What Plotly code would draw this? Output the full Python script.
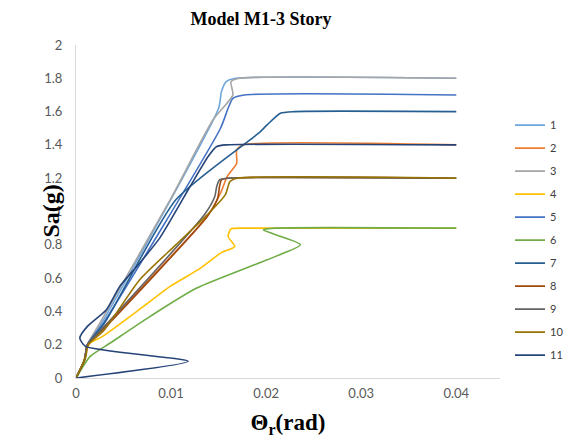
import plotly.graph_objects as go

# ---- data ----
names = ["1", "2", "3", "4", "5", "6", "7", "8", "9", "10", "11"]
colors = ["#6FA6DC", "#ED7D31", "#A5A5A5", "#FFC000", "#4472C4", "#70AD47",
          "#255E91", "#9E480E", "#636363", "#997300", "#264478"]

x1 = [0, 0.0009, 0.0012, 0.003, 0.0150, 0.0153, 0.0158, 0.0168, 0.04]
y1 = [0, 0.11, 0.2, 0.36, 1.62, 1.72, 1.78, 1.80, 1.80]

x2 = [0, 0.0009, 0.0012, 0.003, 0.0138, 0.0152, 0.0159, 0.0169, 0.0169, 0.0176, 0.04]
y2 = [0, 0.11, 0.2, 0.31, 0.97, 1.11, 1.21, 1.29, 1.37, 1.40, 1.40]

x3 = [0, 0.0009, 0.0012, 0.0025, 0.0099, 0.0144, 0.0165, 0.0163, 0.0172, 0.04]
y3 = [0, 0.11, 0.2, 0.33, 1.07, 1.55, 1.70, 1.78, 1.80, 1.80]

x4 = [0, 0.0008, 0.0011, 0.0015, 0.0028, 0.0071, 0.0099, 0.0131, 0.0152, 0.0167, 0.0160, 0.0163, 0.0175, 0.0200, 0.04]
y4 = [0, 0.10, 0.17, 0.21, 0.25, 0.43, 0.55, 0.66, 0.75, 0.79, 0.85, 0.895, 0.90, 0.90, 0.90]

x5 = [0, 0.0009, 0.0012, 0.003, 0.0152, 0.0160, 0.0165, 0.0177, 0.04]
y5 = [0, 0.11, 0.2, 0.34, 1.50, 1.62, 1.68, 1.70, 1.70]

x6 = [0, 0.0015, 0.0036, 0.0078, 0.0127, 0.0201, 0.0236, 0.0210, 0.0197, 0.0210, 0.04]
y6 = [0, 0.13, 0.21, 0.37, 0.54, 0.71, 0.80, 0.86, 0.89, 0.90, 0.90]

x7 = [0, 0.0009, 0.0012, 0.003, 0.0105, 0.0183, 0.0194, 0.0201, 0.0215, 0.0230, 0.04]
y7 = [0, 0.11, 0.2, 0.33, 1.07, 1.43, 1.48, 1.52, 1.59, 1.60, 1.60]

x8 = [0, 0.0009, 0.0012, 0.003, 0.0138, 0.0149, 0.0151, 0.0153, 0.0160, 0.04]
y8 = [0, 0.11, 0.2, 0.30, 0.97, 1.08, 1.15, 1.19, 1.20, 1.20]

x9 = [0, 0.0009, 0.0012, 0.003, 0.0135, 0.0146, 0.0148, 0.0151, 0.0158, 0.04]
y9 = [0, 0.11, 0.2, 0.31, 0.98, 1.09, 1.15, 1.19, 1.20, 1.20]

x10 = [0, 0.001, 0.0013, 0.003, 0.0067, 0.0105, 0.0138, 0.0157, 0.0162, 0.0170, 0.04]
y10 = [0, 0.12, 0.2, 0.29, 0.59, 0.80, 0.98, 1.10, 1.18, 1.20, 1.20]

x11 = [0, 0.0118, 0.0010, 0.0004, 0.0012, 0.0032, 0.0046, 0.0064, 0.0088, 0.0120, 0.0139, 0.0148, 0.0158, 0.04]
y11 = [0, 0.10, 0.19, 0.24, 0.31, 0.41, 0.55, 0.67, 0.84, 1.15, 1.33, 1.39, 1.40, 1.40]

xs = [x1, x2, x3, x4, x5, x6, x7, x8, x9, x10, x11]
ys = [y1, y2, y3, y4, y5, y6, y7, y8, y9, y10, y11]

x_ticks = [0, 0.01, 0.02, 0.03, 0.04]
y_ticks = [0, 0.2, 0.4, 0.6, 0.8, 1, 1.2, 1.4, 1.6, 1.8, 2]

fig = go.Figure()
for n, c, x, y in zip(names, colors, xs, ys):
    fig.add_trace(go.Scatter(x=x, y=y, name=n, mode="lines",
                             line=dict(color=c, width=1.6, shape="spline", smoothing=0.6),
                             legendgroup=n))

# page body has an 8px margin: figure is drawn 8px right/down in the window
W, H = 563, 437
L, T, PW, PH = 68, 37, 424, 333
axis_font = dict(family="Lato, Liberation Sans, sans-serif", size=13, color="#595959")
serif = "Liberation Serif, Times New Roman, serif"
fig.update_layout(
    width=W, height=H,
    margin=dict(l=L, r=W - L - PW, t=T, b=H - T - PH, autoexpand=False),
    paper_bgcolor="white", plot_bgcolor="white",
    title=dict(text="<b>Model M1-3 Story</b>", xref="paper", x=(253 - L) / PW, xanchor="center",
               yref="container", y=1 - 11 / H, yanchor="middle",
               font=dict(family=serif, size=18, color="black")),
    xaxis=dict(range=[0, 0.0446], tickvals=x_ticks, showgrid=False, zeroline=False,
               showline=True, linecolor="#D9D9D9", linewidth=1, ticks="",
               tickfont=axis_font, automargin=False, ticklabelstandoff=3,
               title=dict(text="<b>Θ<sub>r</sub>(rad)</b>", standoff=14,
                          font=dict(family=serif, size=23, color="black"))),
    yaxis=dict(range=[0, 2], tickvals=y_ticks, showgrid=False, zeroline=False,
               showline=True, linecolor="#D9D9D9", linewidth=1, ticks="",
               tickfont=axis_font, automargin=False, ticklabelstandoff=10),
    annotations=[dict(text="<b>Sa(g)</b>", textangle=-90, xref="paper", yref="paper",
                      x=(42 - L) / PW, y=0.5, xanchor="center", yanchor="middle", showarrow=False,
                      font=dict(family=serif, size=24, color="black"))],
    legend=dict(x=(502 - L) / PW, xanchor="left", y=0.803, yanchor="top",
                font=dict(family="Lato, Liberation Sans, sans-serif", size=11, color="#404040"),
                itemwidth=30, tracegroupgap=4, bgcolor="rgba(0,0,0,0)"),
)

fig.write_html("out.html")
